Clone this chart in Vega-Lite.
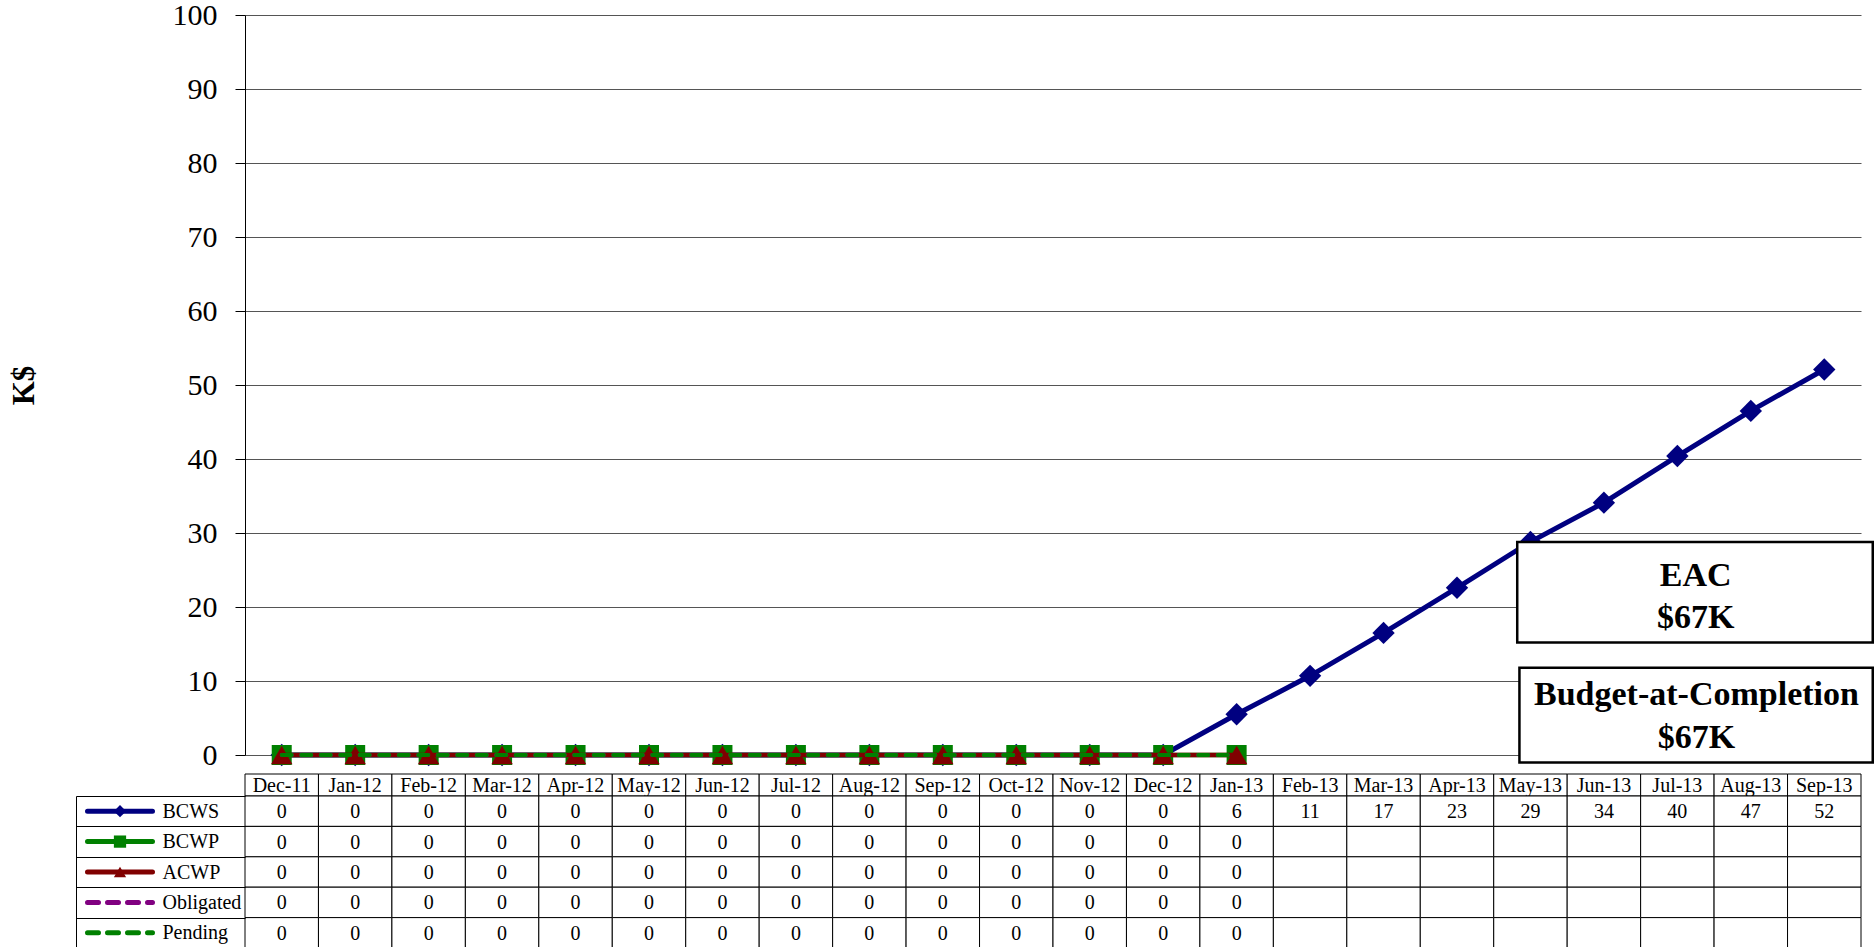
{
  "$schema": "https://vega.github.io/schema/vega-lite/v6.json",
  "background": "white",
  "padding": {"left": 8, "top": 0, "right": 0, "bottom": 0},
  "config": {
    "font": "Liberation Serif",
    "view": {"stroke": null},
    "text": {"font": "Liberation Serif", "color": "black"}
  },
  "datasets": {
    "costs": [
      {"month": "Dec-11", "series": "BCWS", "value": 0}, {"month": "Jan-12", "series": "BCWS", "value": 0}, {"month": "Feb-12", "series": "BCWS", "value": 0}, {"month": "Mar-12", "series": "BCWS", "value": 0}, {"month": "Apr-12", "series": "BCWS", "value": 0}, {"month": "May-12", "series": "BCWS", "value": 0}, {"month": "Jun-12", "series": "BCWS", "value": 0}, {"month": "Jul-12", "series": "BCWS", "value": 0}, {"month": "Aug-12", "series": "BCWS", "value": 0}, {"month": "Sep-12", "series": "BCWS", "value": 0}, {"month": "Oct-12", "series": "BCWS", "value": 0}, {"month": "Nov-12", "series": "BCWS", "value": 0}, {"month": "Dec-12", "series": "BCWS", "value": 0}, {"month": "Jan-13", "series": "BCWS", "value": 5.5}, {"month": "Feb-13", "series": "BCWS", "value": 10.7}, {"month": "Mar-13", "series": "BCWS", "value": 16.5}, {"month": "Apr-13", "series": "BCWS", "value": 22.6}, {"month": "May-13", "series": "BCWS", "value": 28.8}, {"month": "Jun-13", "series": "BCWS", "value": 34.1}, {"month": "Jul-13", "series": "BCWS", "value": 40.4}, {"month": "Aug-13", "series": "BCWS", "value": 46.5}, {"month": "Sep-13", "series": "BCWS", "value": 52.1},
      {"month": "Dec-11", "series": "BCWP", "value": 0}, {"month": "Jan-12", "series": "BCWP", "value": 0}, {"month": "Feb-12", "series": "BCWP", "value": 0}, {"month": "Mar-12", "series": "BCWP", "value": 0}, {"month": "Apr-12", "series": "BCWP", "value": 0}, {"month": "May-12", "series": "BCWP", "value": 0}, {"month": "Jun-12", "series": "BCWP", "value": 0}, {"month": "Jul-12", "series": "BCWP", "value": 0}, {"month": "Aug-12", "series": "BCWP", "value": 0}, {"month": "Sep-12", "series": "BCWP", "value": 0}, {"month": "Oct-12", "series": "BCWP", "value": 0}, {"month": "Nov-12", "series": "BCWP", "value": 0}, {"month": "Dec-12", "series": "BCWP", "value": 0}, {"month": "Jan-13", "series": "BCWP", "value": 0}, {"month": "Feb-13", "series": "BCWP"}, {"month": "Mar-13", "series": "BCWP"}, {"month": "Apr-13", "series": "BCWP"}, {"month": "May-13", "series": "BCWP"}, {"month": "Jun-13", "series": "BCWP"}, {"month": "Jul-13", "series": "BCWP"}, {"month": "Aug-13", "series": "BCWP"}, {"month": "Sep-13", "series": "BCWP"},
      {"month": "Dec-11", "series": "ACWP", "value": 0}, {"month": "Jan-12", "series": "ACWP", "value": 0}, {"month": "Feb-12", "series": "ACWP", "value": 0}, {"month": "Mar-12", "series": "ACWP", "value": 0}, {"month": "Apr-12", "series": "ACWP", "value": 0}, {"month": "May-12", "series": "ACWP", "value": 0}, {"month": "Jun-12", "series": "ACWP", "value": 0}, {"month": "Jul-12", "series": "ACWP", "value": 0}, {"month": "Aug-12", "series": "ACWP", "value": 0}, {"month": "Sep-12", "series": "ACWP", "value": 0}, {"month": "Oct-12", "series": "ACWP", "value": 0}, {"month": "Nov-12", "series": "ACWP", "value": 0}, {"month": "Dec-12", "series": "ACWP", "value": 0}, {"month": "Jan-13", "series": "ACWP", "value": 0}, {"month": "Feb-13", "series": "ACWP"}, {"month": "Mar-13", "series": "ACWP"}, {"month": "Apr-13", "series": "ACWP"}, {"month": "May-13", "series": "ACWP"}, {"month": "Jun-13", "series": "ACWP"}, {"month": "Jul-13", "series": "ACWP"}, {"month": "Aug-13", "series": "ACWP"}, {"month": "Sep-13", "series": "ACWP"},
      {"month": "Dec-11", "series": "Obligated", "value": 0}, {"month": "Jan-12", "series": "Obligated", "value": 0}, {"month": "Feb-12", "series": "Obligated", "value": 0}, {"month": "Mar-12", "series": "Obligated", "value": 0}, {"month": "Apr-12", "series": "Obligated", "value": 0}, {"month": "May-12", "series": "Obligated", "value": 0}, {"month": "Jun-12", "series": "Obligated", "value": 0}, {"month": "Jul-12", "series": "Obligated", "value": 0}, {"month": "Aug-12", "series": "Obligated", "value": 0}, {"month": "Sep-12", "series": "Obligated", "value": 0}, {"month": "Oct-12", "series": "Obligated", "value": 0}, {"month": "Nov-12", "series": "Obligated", "value": 0}, {"month": "Dec-12", "series": "Obligated", "value": 0}, {"month": "Jan-13", "series": "Obligated", "value": 0}, {"month": "Feb-13", "series": "Obligated"}, {"month": "Mar-13", "series": "Obligated"}, {"month": "Apr-13", "series": "Obligated"}, {"month": "May-13", "series": "Obligated"}, {"month": "Jun-13", "series": "Obligated"}, {"month": "Jul-13", "series": "Obligated"}, {"month": "Aug-13", "series": "Obligated"}, {"month": "Sep-13", "series": "Obligated"},
      {"month": "Dec-11", "series": "Pending", "value": 0}, {"month": "Jan-12", "series": "Pending", "value": 0}, {"month": "Feb-12", "series": "Pending", "value": 0}, {"month": "Mar-12", "series": "Pending", "value": 0}, {"month": "Apr-12", "series": "Pending", "value": 0}, {"month": "May-12", "series": "Pending", "value": 0}, {"month": "Jun-12", "series": "Pending", "value": 0}, {"month": "Jul-12", "series": "Pending", "value": 0}, {"month": "Aug-12", "series": "Pending", "value": 0}, {"month": "Sep-12", "series": "Pending", "value": 0}, {"month": "Oct-12", "series": "Pending", "value": 0}, {"month": "Nov-12", "series": "Pending", "value": 0}, {"month": "Dec-12", "series": "Pending", "value": 0}, {"month": "Jan-13", "series": "Pending", "value": 0}, {"month": "Feb-13", "series": "Pending"}, {"month": "Mar-13", "series": "Pending"}, {"month": "Apr-13", "series": "Pending"}, {"month": "May-13", "series": "Pending"}, {"month": "Jun-13", "series": "Pending"}, {"month": "Jul-13", "series": "Pending"}, {"month": "Aug-13", "series": "Pending"}, {"month": "Sep-13", "series": "Pending"}
    ],
    "keys": [
      {"series": "BCWS", "end": "a"}, {"series": "BCWS", "end": "b"}, {"series": "BCWS", "end": "m"},
      {"series": "BCWP", "end": "a"}, {"series": "BCWP", "end": "b"}, {"series": "BCWP", "end": "m"},
      {"series": "ACWP", "end": "a"}, {"series": "ACWP", "end": "b"}, {"series": "ACWP", "end": "m"},
      {"series": "Obligated", "end": "a"}, {"series": "Obligated", "end": "b"},
      {"series": "Pending", "end": "a"}, {"series": "Pending", "end": "b"}
    ],
    "boxes": [
      {"label": "EAC", "amount": "$67K", "slot": "eac"},
      {"label": "Budget-at-Completion", "amount": "$67K", "slot": "bac"}
    ]
  },
  "bounds": "flush",
  "spacing": 19,
  "vconcat": [
    {
      "width": 1616,
      "height": 740,
      "resolve": {"scale": {"x": "independent"}},
      "layer": [
        {
          "data": {"name": "costs"},
          "encoding": {
            "x": {"field": "month", "type": "nominal", "sort": ["Dec-11","Jan-12","Feb-12","Mar-12","Apr-12","May-12","Jun-12","Jul-12","Aug-12","Sep-12","Oct-12","Nov-12","Dec-12","Jan-13","Feb-13","Mar-13","Apr-13","May-13","Jun-13","Jul-13","Aug-13","Sep-13"], "scale": {"type": "band", "paddingInner": 0, "paddingOuter": 0}, "axis": null},
            "y": {"field": "value", "type": "quantitative", "scale": {"domain": [0, 100], "nice": false},
              "axis": {"values": [0,10,20,30,40,50,60,70,80,90,100], "title": "K$", "titleFont": "Liberation Serif", "titleFontSize": 31, "titleFontWeight": "bold", "titleColor": "black", "titlePadding": 132,
                "labelFont": "Liberation Serif", "labelFontSize": 30, "labelColor": "black", "labelPadding": 18,
                "tickSize": 10, "tickColor": "black", "domainColor": "black", "grid": true, "gridColor": "#555", "gridWidth": 1}},
            "color": {"field": "series", "type": "nominal", "scale": {"domain": ["BCWS","BCWP","ACWP","Obligated","Pending"], "range": ["#000080","#008000","#800000","#800080","#008000"]}, "legend": null}
          },
          "layer": [
            {"transform": [{"filter": "datum.series === 'BCWS' && isValid(datum.value)"}], "mark": {"type": "line", "strokeWidth": 5}},
            {"transform": [{"filter": "datum.series === 'BCWS' && isValid(datum.value)"}], "mark": {"type": "point", "shape": "diamond", "filled": true, "opacity": 1, "size": 500}},
            {"transform": [{"filter": "datum.series === 'BCWP' && isValid(datum.value)"}], "mark": {"type": "line", "strokeWidth": 4.5}},
            {"transform": [{"filter": "datum.series === 'BCWP' && isValid(datum.value)"}], "mark": {"type": "point", "shape": "square", "filled": true, "opacity": 1, "size": 400}},
            {"transform": [{"filter": "datum.series === 'ACWP' && isValid(datum.value)"}], "mark": {"type": "line", "strokeWidth": 4.5}},
            {"transform": [{"filter": "datum.series === 'ACWP' && isValid(datum.value)"}], "mark": {"type": "point", "shape": "triangle-up", "filled": true, "opacity": 1, "size": 460}},
            {"transform": [{"filter": "datum.series === 'Obligated' && isValid(datum.value)"}], "mark": {"type": "line", "strokeWidth": 4, "strokeDash": [10, 9.5], "strokeCap": "round"}},
            {"transform": [{"filter": "datum.series === 'Pending' && isValid(datum.value)"}], "mark": {"type": "line", "strokeWidth": 4, "strokeDash": [10, 9.5], "strokeCap": "round"}}
          ]
        },
        {
          "data": {"name": "boxes"},
          "transform": [{"filter": "datum.slot === 'eac'"}],
          "mark": {"type": "rect", "fill": "white", "stroke": "black", "strokeWidth": 2.5},
          "encoding": {
            "x": {"datum": 17.32, "type": "quantitative", "scale": {"domain": [0, 22], "nice": false, "zero": false}, "axis": null},
            "x2": {"datum": 22.16},
            "y": {"datum": 28.8, "type": "quantitative"}, "y2": {"datum": 15.2}}
        },
        {
          "data": {"name": "boxes"},
          "transform": [{"filter": "datum.slot === 'eac'"}],
          "mark": {"type": "text", "fontSize": 34, "fontWeight": "bold", "fill": "black", "align": "center", "baseline": "alphabetic"},
          "encoding": {"x": {"datum": 19.75, "type": "quantitative", "scale": {"domain": [0, 22], "nice": false, "zero": false}, "axis": null}, "y": {"datum": 22.9, "type": "quantitative"}, "text": {"field": "label"}}
        },
        {
          "data": {"name": "boxes"},
          "transform": [{"filter": "datum.slot === 'eac'"}],
          "mark": {"type": "text", "fontSize": 34, "fontWeight": "bold", "fill": "black", "align": "center", "baseline": "alphabetic"},
          "encoding": {"x": {"datum": 19.75, "type": "quantitative", "scale": {"domain": [0, 22], "nice": false, "zero": false}, "axis": null}, "y": {"datum": 17.1, "type": "quantitative"}, "text": {"field": "amount"}}
        },
        {
          "data": {"name": "boxes"},
          "transform": [{"filter": "datum.slot === 'bac'"}],
          "mark": {"type": "rect", "fill": "white", "stroke": "black", "strokeWidth": 2.5},
          "encoding": {
            "x": {"datum": 17.35, "type": "quantitative", "scale": {"domain": [0, 22], "nice": false, "zero": false}, "axis": null},
            "x2": {"datum": 22.16},
            "y": {"datum": 11.8, "type": "quantitative"}, "y2": {"datum": -1.0}}
        },
        {
          "data": {"name": "boxes"},
          "transform": [{"filter": "datum.slot === 'bac'"}],
          "mark": {"type": "text", "fontSize": 34, "fontWeight": "bold", "fill": "black", "align": "center", "baseline": "alphabetic"},
          "encoding": {"x": {"datum": 19.76, "type": "quantitative", "scale": {"domain": [0, 22], "nice": false, "zero": false}, "axis": null}, "y": {"datum": 6.7, "type": "quantitative"}, "text": {"field": "label"}}
        },
        {
          "data": {"name": "boxes"},
          "transform": [{"filter": "datum.slot === 'bac'"}],
          "mark": {"type": "text", "fontSize": 34, "fontWeight": "bold", "fill": "black", "align": "center", "baseline": "alphabetic"},
          "encoding": {"x": {"datum": 19.76, "type": "quantitative", "scale": {"domain": [0, 22], "nice": false, "zero": false}, "axis": null}, "y": {"datum": 1.0, "type": "quantitative"}, "text": {"field": "amount"}}
        }
      ]
    },
    {
      "bounds": "flush",
      "spacing": 0,
      "vconcat": [
        {
          "width": 1616,
          "height": 22,
          "data": {"name": "costs"},
          "transform": [{"filter": "datum.series === 'BCWS'"}],
          "encoding": {
            "x": {"field": "month", "type": "nominal", "sort": ["Dec-11","Jan-12","Feb-12","Mar-12","Apr-12","May-12","Jun-12","Jul-12","Aug-12","Sep-12","Oct-12","Nov-12","Dec-12","Jan-13","Feb-13","Mar-13","Apr-13","May-13","Jun-13","Jul-13","Aug-13","Sep-13"], "scale": {"type": "band", "paddingInner": 0, "paddingOuter": 0}, "axis": null}
          },
          "layer": [
            {"mark": {"type": "rect", "fill": "white", "stroke": "black", "strokeWidth": 1}},
            {"mark": {"type": "text", "fontSize": 20, "color": "black", "baseline": "middle", "dy": 1}, "encoding": {"text": {"field": "month"}}}
          ]
        },
        {
          "width": 1616,
          "height": 152,
          "resolve": {"scale": {"x": "independent"}},
          "layer": [
            {
              "data": {"name": "costs"},
              "encoding": {
                "x": {"field": "month", "type": "nominal", "sort": ["Dec-11","Jan-12","Feb-12","Mar-12","Apr-12","May-12","Jun-12","Jul-12","Aug-12","Sep-12","Oct-12","Nov-12","Dec-12","Jan-13","Feb-13","Mar-13","Apr-13","May-13","Jun-13","Jul-13","Aug-13","Sep-13"], "scale": {"type": "band", "paddingInner": 0, "paddingOuter": 0}, "axis": null},
                "y": {"field": "series", "type": "nominal", "sort": ["BCWS","BCWP","ACWP","Obligated","Pending"], "scale": {"type": "band", "paddingInner": 0, "paddingOuter": 0},
                  "axis": {"orient": "left", "offset": 169, "title": null, "grid": false, "domain": true, "domainColor": "black", "domainWidth": 1,
                    "ticks": true, "tickBand": "extent", "tickSize": -169, "tickColor": "black", "tickWidth": 1,
                    "labels": true, "labelAlign": "left", "labelBaseline": "middle", "labelPadding": 83, "labelFont": "Liberation Serif", "labelFontSize": 20, "labelColor": "black"}}
              },
              "layer": [
                {"mark": {"type": "rect", "fill": "white", "stroke": "black", "strokeWidth": 1}},
                {"transform": [{"filter": "isValid(datum.value)"}], "mark": {"type": "text", "fontSize": 20, "color": "black", "baseline": "middle", "dy": 1}, "encoding": {"text": {"field": "value", "type": "quantitative", "format": ".0f"}}}
              ]
            },
            {
              "data": {"name": "keys"},
              "encoding": {
                "x": {"field": "end", "type": "nominal", "sort": ["a", "m", "b"], "scale": {"type": "point", "padding": 0, "range": [-157.5, -92.5]}, "axis": null},
                "y": {"field": "series", "type": "nominal", "sort": ["BCWS","BCWP","ACWP","Obligated","Pending"], "scale": {"type": "band", "paddingInner": 0, "paddingOuter": 0}},
                "color": {"field": "series", "type": "nominal", "scale": {"domain": ["BCWS","BCWP","ACWP","Obligated","Pending"], "range": ["#000080","#008000","#800000","#800080","#008000"]}, "legend": null}
              },
              "layer": [
                {"transform": [{"filter": "datum.end !== 'm'"}], "mark": {"type": "line", "strokeWidth": 5, "strokeCap": "round"},
                  "encoding": {"strokeDash": {"field": "series", "type": "nominal", "scale": {"domain": ["BCWS","BCWP","ACWP","Obligated","Pending"], "range": [[1,0],[1,0],[1,0],[11,9],[11,9]]}, "legend": null}}},
                {"transform": [{"filter": "datum.end === 'm'"}], "mark": {"type": "point", "filled": true, "opacity": 1, "size": 150},
                  "encoding": {"shape": {"field": "series", "type": "nominal", "scale": {"domain": ["BCWS","BCWP","ACWP"], "range": ["diamond","square","triangle-up"]}, "legend": null}}}
              ]
            }
          ]
        }
      ]
    }
  ]
}
